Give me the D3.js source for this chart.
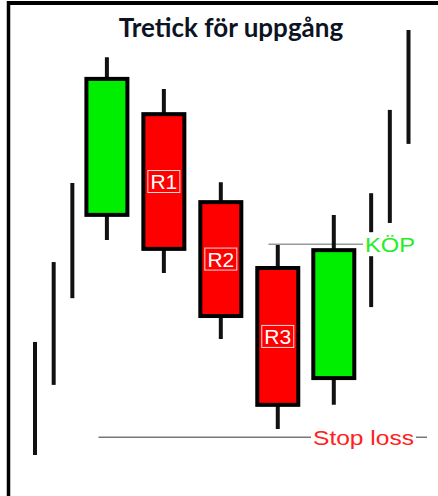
<!DOCTYPE html>
<html>
<head>
<meta charset="utf-8">
<script src="https://cdn.jsdelivr.net/npm/d3@7"></script>
<style>
  html, body { margin: 0; padding: 0; background: #fff; }
  svg { display: block; }
</style>
</head>
<body>
<svg id="chart" width="438" height="496"></svg>
<script>
// Bar positions along the time axis
const slots  = [0, 1, 2, 3.85, 6.9, 9.95, 13, 16, 18, 19, 20];
// Price series (open/close are null for bars drawn as a plain range line)
const highs  = [26.6, 45.4, 64.0, 93.6, 86.1, 64.2, 49.4, 56.5, 61.6, 81.2, 100];
const lows   = [0.0, 16.5, 36.9, 50.6, 42.8, 27.3, 6.1, 11.8, 34.8, 54.6, 73.2];
const opens  = [null, null, null, 56.5, 80.2, 59.5, 44.0, 18.1, null, null, null];
const closes = [null, null, null, 88.5, 48.5, 32.7, 11.8, 48.2, null, null, null];
const tags   = [null, null, null, null, "R1", "R2", "R3", null, null, null, null];

// Signal levels
const buyLevel  = 49.6;
const stopLevel = 4.2;

const title = "Tretick för uppgång";

const svg = d3.select("#chart");
const x = d3.scaleLinear().domain([0, 20]).range([35, 408.5]);
const y = d3.scaleLinear().domain([0, 100]).range([455, 30]);

const bars = slots.map((t, i) => ({
  t, high: highs[i], low: lows[i], open: opens[i], close: closes[i], tag: tags[i]
}));
const candles = bars.filter(d => d.open !== null);

// frame (top and left edges)
svg.append("line").attr("x1", 7).attr("x2", 438).attr("y1", 3).attr("y2", 3)
  .attr("stroke", "#000").attr("stroke-width", 4);
svg.append("line").attr("x1", 8.5).attr("x2", 8.5).attr("y1", 1).attr("y2", 496)
  .attr("stroke", "#000").attr("stroke-width", 3.5);

// title
svg.append("text")
  .attr("x", 231).attr("y", 37)
  .attr("text-anchor", "middle")
  .attr("font-family", "Lato, 'Open Sans', sans-serif")
  .attr("font-weight", "bold")
  .attr("font-size", 26)
  .attr("fill", "#0c1424")
  .text(title);

// horizontal signal lines
svg.append("line")
  .attr("x1", x(12.5)).attr("x2", 365)
  .attr("y1", y(buyLevel)).attr("y2", y(buyLevel))
  .attr("stroke", "#999").attr("stroke-width", 1.5);
svg.append("line")
  .attr("x1", x(3.4)).attr("x2", 427)
  .attr("y1", y(stopLevel)).attr("y2", y(stopLevel))
  .attr("stroke", "#777").attr("stroke-width", 1.5);

// high-low ranges
svg.append("g").selectAll("line").data(bars).join("line")
  .attr("x1", d => x(d.t)).attr("x2", d => x(d.t))
  .attr("y1", d => y(d.high)).attr("y2", d => y(d.low))
  .attr("stroke", "#111").attr("stroke-width", 4);

// candle bodies
const bodyW = 41;
svg.append("g").selectAll("rect").data(candles).join("rect")
  .attr("x", d => x(d.t) - bodyW / 2)
  .attr("width", bodyW)
  .attr("y", d => y(Math.max(d.open, d.close)))
  .attr("height", d => Math.abs(y(d.open) - y(d.close)))
  .attr("fill", d => d.close > d.open ? "#00ee00" : "#ff0000")
  .attr("stroke", "#000").attr("stroke-width", 4);

// R1..R3 tags at body midpoints
const tagged = candles.filter(d => d.tag);
const tg = svg.append("g").selectAll("g").data(tagged).join("g")
  .attr("transform", d => `translate(${x(d.t)},${y((d.open + d.close) / 2)})`);
tg.append("rect")
  .attr("x", -16).attr("y", -11).attr("width", 32).attr("height", 22)
  .attr("fill", "none").attr("stroke", "#fff").attr("stroke-opacity", 0.85).attr("stroke-width", 1);
tg.append("text")
  .attr("text-anchor", "middle").attr("y", 7.5)
  .attr("font-family", "'Liberation Sans', Arial, sans-serif")
  .attr("font-size", 21)
  .attr("fill", "#fff")
  .text(d => d.tag);

// signal labels on white backing
function signalLabel(txt, x0, level, color, w) {
  const g = svg.append("g").attr("transform", `translate(${x0},${y(level)})`);
  g.append("rect").attr("x", -2).attr("y", -12).attr("width", w + 4).attr("height", 24).attr("fill", "#fff");
  g.append("text")
    .attr("x", 0).attr("y", 8)
    .attr("font-family", "'Liberation Sans', Arial, sans-serif")
    .attr("font-size", 21)
    .attr("fill", color)
    .attr("textLength", w).attr("lengthAdjust", "spacingAndGlyphs")
    .text(txt);
}
signalLabel("KÖP", 365, buyLevel, "#22ee22", 50);
signalLabel("Stop loss", 313, stopLevel, "#ff2020", 101);
</script>
</body>
</html>
